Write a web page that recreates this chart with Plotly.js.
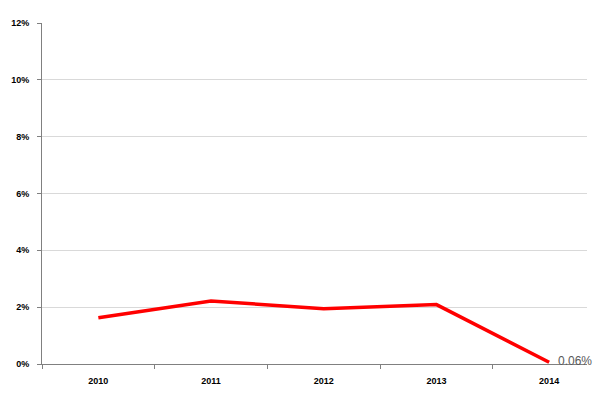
<!DOCTYPE html>
<html>
<head>
<meta charset="utf-8">
<script src="https://cdn.plot.ly/plotly-3.0.1.min.js"></script>
<style>html,body{margin:0;padding:0;background:#fff;}#chart{width:613px;height:408px;}</style>
</head>
<body>
<div id="chart"></div>
<script>
var years = ['2010', '2011', '2012', '2013', '2014'];
var rates = [1.63, 2.22, 1.94, 2.09, 0.06];
var lastLabel = '0.06%';

var trace = {
  x: years,
  y: rates,
  type: 'scatter',
  mode: 'lines',
  line: {color: '#ff0000', width: 3.5},
  hoverinfo: 'skip'
};

var layout = {
  width: 613,
  height: 408,
  margin: {l: 42, r: 26, t: 23, b: 44},
  paper_bgcolor: '#ffffff',
  plot_bgcolor: '#ffffff',
  showlegend: false,
  font: {family: 'Liberation Sans, Arial, sans-serif', size: 10, color: '#000'},
  xaxis: {
    type: 'category',
    range: [-0.5, 4.336],
    tickson: 'boundaries',
    ticks: 'outside',
    ticklen: 4,
    tickcolor: '#808080',
    showgrid: false,
    showline: true,
    linecolor: '#808080',
    linewidth: 1,
    ticklabelstandoff: 8,
    tickfont: {family: 'Liberation Sans, Arial, sans-serif', size: 9, color: '#000', weight: 'bold'},
    zeroline: false
  },
  yaxis: {
    range: [0, 12],
    dtick: 2,
    tick0: 0,
    ticksuffix: '%',
    ticks: 'outside',
    ticklen: 4,
    tickcolor: '#808080',
    showgrid: true,
    gridcolor: '#d9d9d9',
    gridwidth: 1,
    showline: true,
    linecolor: '#808080',
    linewidth: 1,
    zeroline: false,
    ticklabelstandoff: 6,
    tickfont: {family: 'Liberation Sans, Arial, sans-serif', size: 9, color: '#000', weight: 'bold'}
  },
  annotations: [{
    x: years.length - 1,
    y: rates[rates.length - 1],
    xref: 'x', yref: 'y',
    text: lastLabel,
    showarrow: false,
    xanchor: 'left',
    yanchor: 'middle',
    xshift: 7,
    yshift: 1,
    font: {family: 'Liberation Sans, Arial, sans-serif', size: 12, color: '#595959'}
  }]
};

Plotly.newPlot('chart', [trace], layout, {displayModeBar: false, staticPlot: true});
</script>
</body>
</html>
